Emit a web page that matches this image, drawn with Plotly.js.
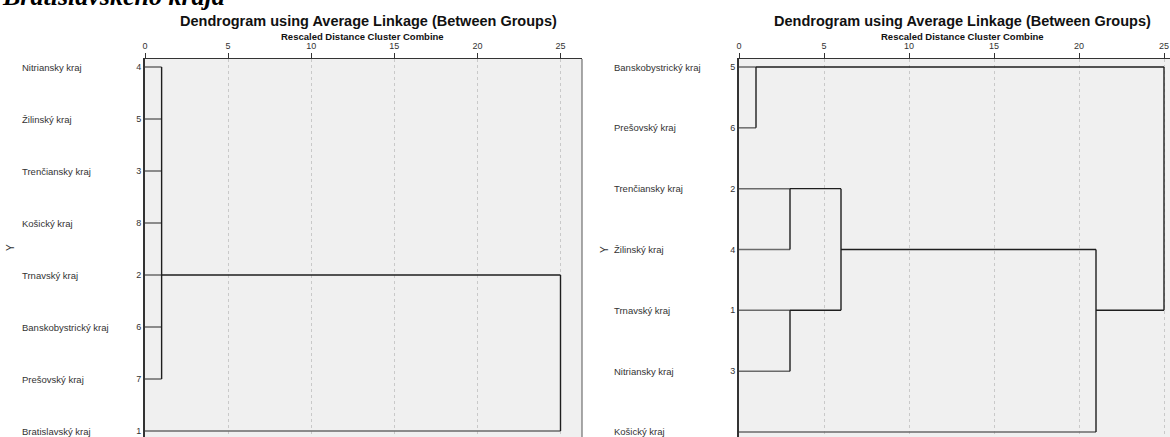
<!DOCTYPE html>
<html><head><meta charset="utf-8">
<script src="https://cdn.plot.ly/plotly-3.0.1.min.js"></script>
<style>html,body{margin:0;padding:0;background:#fff;overflow:hidden}</style>
</head><body><div id="chart" style="width:1170px;height:437px"></div>
<script>
// ---- Left dendrogram (all 8 regions) ----
const leftNames = ['Nitriansky kraj','Žilinský kraj','Trenčiansky kraj','Košický kraj','Trnavský kraj','Banskobystrický kraj','Prešovský kraj','Bratislavský kraj'];
const leftIds = ['4','5','3','8','2','6','7','1'];
const leftLeafJoin = [1,1,1,1,1,1,1,25];
const leftMergeHeight = [1,25];
const leftMergeTop = [0,4];
const leftMergeBottom = [6,7];
const leftMergeOutRow = [4,null];
const leftMergeOutTo = [25,null];

// ---- Right dendrogram (without Bratislavský kraj) ----
const rightNames = ['Banskobystrický kraj','Prešovský kraj','Trenčiansky kraj','Žilinský kraj','Trnavský kraj','Nitriansky kraj','Košický kraj'];
const rightIds = ['5','6','2','4','1','3','7'];
const rightLeafJoin = [1,1,3,3,3,3,21];
const rightMergeHeight = [1,3,3,6,21,25];
const rightMergeTop = [0,2,4,2,3,0];
const rightMergeBottom = [1,3,5,4,6,4];
const rightMergeOutRow = [0,2,4,3,4,null];
const rightMergeOutTo = [25,6,6,21,25,null];

const distTicks = [0,5,10,15,20,25];
const mainTitle = 'Dendrogram using Average Linkage (Between Groups)';
const subTitle = 'Rescaled Distance Cluster Combine';
const headText = 'Bratislavského kraja';

function buildLines(leafJoin, mH, mTop, mBot, mOutRow, mOutTo){
  const leafX=[], leafY=[], clX=[], clY=[];
  leafJoin.forEach((h,i)=>{ leafX.push(0,h,null); leafY.push(i,i,null); });
  mH.forEach((h,k)=>{
    clX.push(h,h,null); clY.push(mTop[k],mBot[k],null);
    if(mOutTo[k]!==null){ clX.push(h,mOutTo[k],null); clY.push(mOutRow[k],mOutRow[k],null); }
  });
  return {leafX,leafY,clX,clY};
}
const L = buildLines(leftLeafJoin,leftMergeHeight,leftMergeTop,leftMergeBottom,leftMergeOutRow,leftMergeOutTo);
const R = buildLines(rightLeafJoin,rightMergeHeight,rightMergeTop,rightMergeBottom,rightMergeOutRow,rightMergeOutTo);

const W=1170, H=437;
const FONT='Liberation Sans, Arial, sans-serif';
const leafStyle = {color:'#6a6a6a', width:1.5};
const clStyle = {color:'#1e1e1e', width:1.4};

const traces = [
  {x:L.leafX,y:L.leafY,mode:'lines',line:leafStyle,xaxis:'x',yaxis:'y',hoverinfo:'skip',showlegend:false},
  {x:L.clX,y:L.clY,mode:'lines',line:clStyle,xaxis:'x',yaxis:'y',hoverinfo:'skip',showlegend:false},
  {x:R.leafX,y:R.leafY,mode:'lines',line:leafStyle,xaxis:'x2',yaxis:'y2',hoverinfo:'skip',showlegend:false},
  {x:R.clX,y:R.clY,mode:'lines',line:clStyle,xaxis:'x2',yaxis:'y2',hoverinfo:'skip',showlegend:false}
];

const px = v => v/W, py = v => 1 - v/H;
const topY = 59;
const lx0=145, lxUnit=16.62, lxR=582;
const rx0=739, rxUnit=17, rxR=1170;
const lRow0=67, lRowStep=52;
const rRow0=67, rRowStep=60.83;

function xaxisDef(x0,unit,xr){
  return {domain:[px(x0),px(xr)], range:[0,(xr-x0)/unit], side:'top', tickvals:distTicks,
    ticks:'outside', ticklen:5, tickwidth:1, tickcolor:'#333', showline:true, linecolor:'#333', linewidth:1.5,
    showgrid:true, gridcolor:'#c9c9c9', griddash:'3px,3px', gridwidth:1, zeroline:false,
    tickfont:{family:FONT,size:9,color:'#333'}, fixedrange:true};
}
function yaxisDef(n,row0,step,ids){
  return {domain:[0,py(topY)], range:[(n-1)+(H-(row0+(n-1)*step))/step, -(row0-topY)/step],
    tickvals:ids.map((_,i)=>i), ticktext:ids, ticks:'', showline:true, linecolor:'#333', linewidth:2,
    showgrid:false, zeroline:false, tickfont:{family:FONT,size:9,color:'#333'}, fixedrange:true};
}

const annotations = [];
leftNames.forEach((t,i)=>annotations.push({text:t,xref:'paper',x:px(20),xanchor:'left',yref:'y',y:i,yanchor:'middle',showarrow:false,font:{family:FONT,size:9.5,color:'#333'}}));
rightNames.forEach((t,i)=>annotations.push({text:t,xref:'paper',x:px(612),xanchor:'left',yref:'y2',y:i,yanchor:'middle',showarrow:false,font:{family:FONT,size:9.5,color:'#333'}}));
[[368,362],[962,962]].forEach(([tc,sc])=>{
  annotations.push({text:'<b>'+mainTitle+'</b>',xref:'paper',yref:'paper',x:px(tc),y:py(21),xanchor:'center',yanchor:'middle',showarrow:false,font:{family:FONT,size:14.5,color:'#111'}});
  annotations.push({text:'<b>'+subTitle+'</b>',xref:'paper',yref:'paper',x:px(sc),y:py(36.5),xanchor:'center',yanchor:'middle',showarrow:false,font:{family:FONT,size:9.5,color:'#111'}});
});
[[11,248],[604,250]].forEach(([x,y])=>annotations.push({text:'Y',xref:'paper',yref:'paper',x:px(x),y:py(y),textangle:-90,xanchor:'center',yanchor:'middle',showarrow:false,font:{family:FONT,size:10,color:'#333'}}));
annotations.push({text:'<b><i>'+headText+'</i></b>',xref:'paper',yref:'paper',x:0,y:py(13),xanchor:'left',yanchor:'bottom',showarrow:false,font:{family:'Liberation Serif, Times New Roman, serif',size:26,color:'#000'}});

const shapes = [
  {type:'line',xref:'paper',yref:'paper',x0:px(lxR),x1:px(lxR),y0:0,y1:py(topY),line:{color:'#555',width:1}}
];

const layout = {
  width:W, height:H, margin:{l:0,r:0,t:0,b:0,pad:0}, paper_bgcolor:'#fff', plot_bgcolor:'#f0f0f0',
  xaxis:xaxisDef(lx0,lxUnit,lxR), yaxis:yaxisDef(leftIds.length,lRow0,lRowStep,leftIds),
  xaxis2:Object.assign(xaxisDef(rx0,rxUnit,rxR),{anchor:'y2'}), yaxis2:Object.assign(yaxisDef(rightIds.length,rRow0,rRowStep,rightIds),{anchor:'x2'}),
  annotations, shapes, showlegend:false
};
layout.xaxis.anchor='y';
layout.yaxis.anchor='x';
Plotly.newPlot('chart',traces,layout,{displayModeBar:false,staticPlot:true});
</script></body></html>
